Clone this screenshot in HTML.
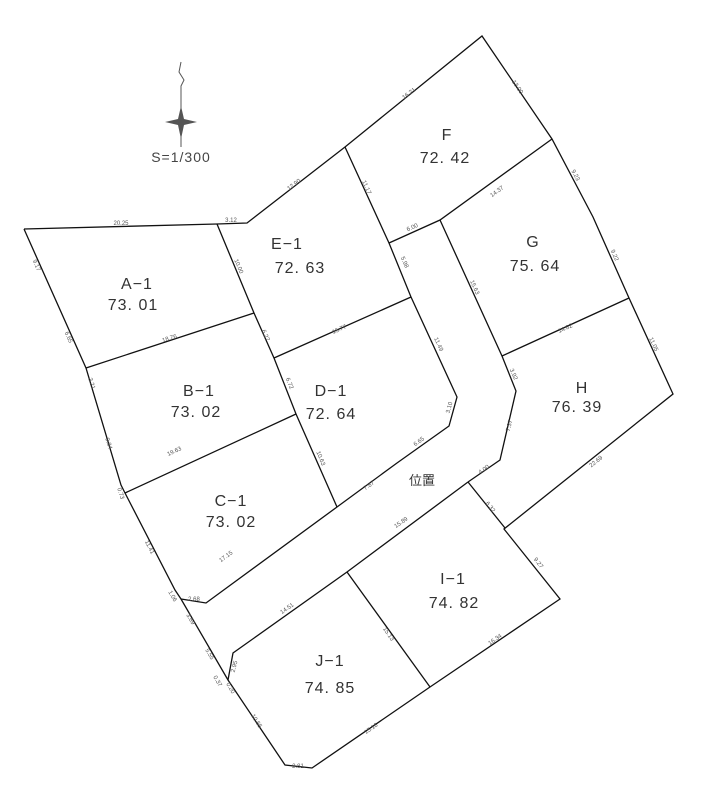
<!DOCTYPE html>
<html><head><meta charset="utf-8"><style>
html,body{margin:0;padding:0;background:#fff;width:719px;height:800px;overflow:hidden}
svg{display:block}
.l{fill:#333;font-family:"Liberation Sans",sans-serif;font-size:16px;letter-spacing:1px;text-anchor:middle}
.d{fill:#555;font-family:"Liberation Sans",sans-serif;font-size:6px;text-anchor:middle}
</style></head><body>
<svg width="719" height="800" viewBox="0 0 719 800" xmlns="http://www.w3.org/2000/svg">
<g fill="none" stroke="#111" stroke-width="1.3" stroke-linejoin="miter">
<polyline points="24,229 217,224 247,223 345,147 482,36 552,139 593,217 629,298 673,394 504,529 560,599 430,687 312,768 285,765 228,680 181,599 175,590 125,493 121,485 86,368 24,229"/>
<polyline points="217,224 254,313 274,358 296,414 337,507"/>
<line x1="86" y1="368" x2="254" y2="313"/>
<line x1="274" y1="358" x2="411" y2="297"/>
<line x1="125" y1="493" x2="296" y2="414"/>
<polyline points="345,147 389,243 411,297 457,397 449,426 397,463 337,507 206,603 181,599"/>
<polyline points="552,139 440,220 389,243"/>
<polyline points="440,220 502,356 516,391 500,460 468,482"/>
<line x1="502" y1="356" x2="629" y2="298"/>
<polyline points="468,482 347,572 233,653 228,680"/>
<line x1="468" y1="482" x2="505" y2="528"/>
<line x1="347" y1="572" x2="430" y2="687"/>
</g>
<g stroke="#555" fill="none" stroke-width="1">
<polyline points="181,62 179,72 184,80 181,86 181,147"/>
</g>
<g fill="#555">
<polygon points="181,106 184,119 197,122 184,125 181,139 178,125 165,122 178,119"/>
</g>
<text x="181" y="162" class="l" style="font-size:14px;fill:#444">S=1/300</text>
<g class="l">
<text x="137" y="289">A−1</text><text x="133" y="310">73. 01</text>
<text x="199" y="396">B−1</text><text x="196" y="417">73. 02</text>
<text x="231" y="506">C−1</text><text x="231" y="527">73. 02</text>
<text x="331" y="396">D−1</text><text x="331" y="419">72. 64</text>
<text x="287" y="249">E−1</text><text x="300" y="273">72. 63</text>
<text x="447" y="140">F</text><text x="445" y="163">72. 42</text>
<text x="533" y="247">G</text><text x="535" y="271">75. 64</text>
<text x="582" y="393">H</text><text x="577" y="412">76. 39</text>
<text x="453" y="584">I−1</text><text x="454" y="608">74. 82</text>
<text x="330" y="666">J−1</text><text x="330" y="693">74. 85</text>
</g>
<text x="422" y="485" style="font-family:'Liberation Sans','Noto Sans CJK JP',sans-serif;font-size:13px;fill:#333;text-anchor:middle">位置</text>
<g class="d">
<text x="121" y="225">20.25</text>
<text x="231" y="222">3.12</text>
<text transform="translate(295,186) rotate(-37)">12.90</text>
<text transform="translate(410,95) rotate(-37)">16.21</text>
<text transform="translate(516,88) rotate(56)">13.00</text>
<text transform="translate(574,176) rotate(62)">9.23</text>
<text transform="translate(613,256) rotate(66)">9.22</text>
<text transform="translate(652,345) rotate(66)">11.05</text>
<text transform="translate(597,463) rotate(-38)">22.69</text>
<text transform="translate(537,564) rotate(52)">9.27</text>
<text transform="translate(496,641) rotate(-35)">16.34</text>
<text transform="translate(372,730) rotate(-35)">15.16</text>
<text x="298" y="768">2.81</text>
<text transform="translate(255,722) rotate(58)">10.65</text>
<text transform="translate(35,266) rotate(66)">9.17</text>
<text transform="translate(67,338) rotate(66)">6.65</text>
<text transform="translate(90,384) rotate(72)">3.21</text>
<text transform="translate(107,444) rotate(72)">9.84</text>
<text transform="translate(119,494) rotate(72)">0.73</text>
<text transform="translate(148,548) rotate(63)">11.41</text>
<text transform="translate(171,597) rotate(60)">1.06</text>
<text x="194" y="601">2.68</text>
<text transform="translate(189,620) rotate(60)">3.69</text>
<text transform="translate(208,655) rotate(60)">5.55</text>
<text transform="translate(216,682) rotate(60)">0.37</text>
<text transform="translate(229,689) rotate(60)">0.20</text>
<text transform="translate(236,667) rotate(-75)">2.95</text>
<text transform="translate(288,610) rotate(-35)">14.51</text>
<text transform="translate(402,524) rotate(-35)">15.89</text>
<text transform="translate(227,558) rotate(-36)">17.15</text>
<text transform="translate(175,453) rotate(-25)">19.63</text>
<text transform="translate(170,340) rotate(-18)">18.76</text>
<text transform="translate(340,331) rotate(-24)">15.77</text>
<text transform="translate(237,267) rotate(67)">10.00</text>
<text transform="translate(264,336) rotate(67)">6.27</text>
<text transform="translate(288,384) rotate(68)">6.72</text>
<text transform="translate(319,459) rotate(68)">10.63</text>
<text transform="translate(365,188) rotate(66)">11.17</text>
<text transform="translate(403,263) rotate(66)">5.98</text>
<text transform="translate(437,345) rotate(66)">11.49</text>
<text transform="translate(451,408) rotate(-75)">3.10</text>
<text transform="translate(420,443) rotate(-36)">6.65</text>
<text transform="translate(370,487) rotate(-36)">7.87</text>
<text transform="translate(413,229) rotate(-24)">6.00</text>
<text transform="translate(498,193) rotate(-36)">14.37</text>
<text transform="translate(473,288) rotate(66)">15.63</text>
<text transform="translate(566,330) rotate(-24)">14.82</text>
<text transform="translate(512,375) rotate(66)">3.92</text>
<text transform="translate(511,426) rotate(-76)">7.37</text>
<text transform="translate(485,471) rotate(-36)">4.00</text>
<text transform="translate(489,508) rotate(52)">6.32</text>
<text transform="translate(387,635) rotate(56)">15.13</text>
</g>
</svg>
</body></html>
